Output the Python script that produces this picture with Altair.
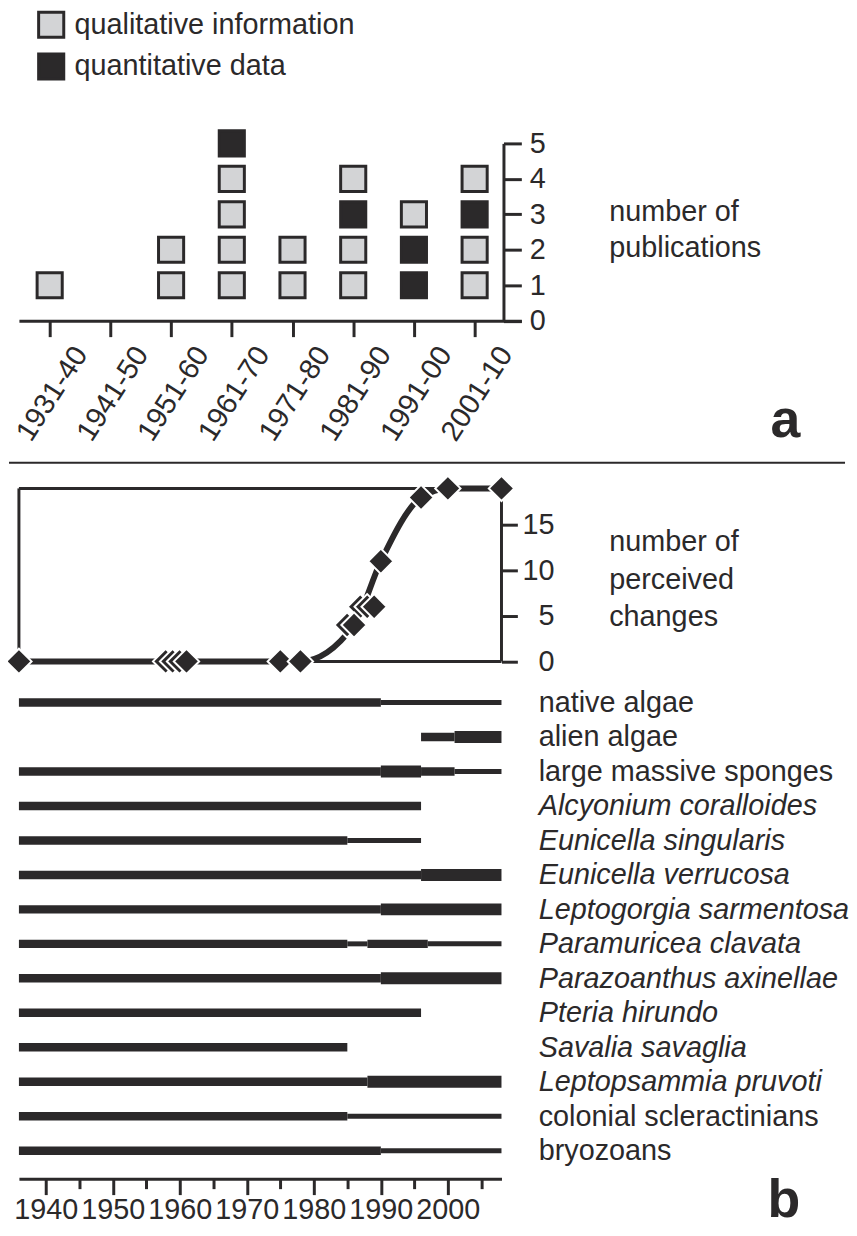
import altair as alt
import pandas as pd

DARK = "#2b292a"
GRAY = "#d3d4d6"
FONT = "Liberation Sans"

# ---------------- panel a: publications per decade ----------------
decades = ["1931-40", "1941-50", "1951-60", "1961-70", "1971-80", "1981-90", "1991-00", "2001-10"]
# publications stacked from the bottom up: q = qualitative, d = quantitative
decade_stacks = ["q", "", "qq", "qqqqd", "qq", "qqdq", "ddq", "qqdq"]
pub_codes = ["q", "d"]
pub_types = ["qualitative information", "quantitative data"]

# ---------------- panel b: perceived changes ----------------
change_years = [1936, 1961, 1975, 1978, 1986, 1989, 1990, 1996, 2000, 2008]
change_counts = [0, 0, 0, 0, 4, 6, 11, 18, 19, 19]
change_ghosts = [0, 3, 0, 0, 1, 2, 0, 0, 0, 0]
curve_years = [1936, 1961, 1975, 1978, 1986, 1990, 1996, 2000, 2008]
curve_counts = [0, 0, 0, 0, 4, 11, 18, 19, 19]
year_min, year_max, count_top = 1936, 2008, 19

# ---------------- panel b: taxa timelines ----------------
species = ["native algae", "alien algae", "large massive sponges", "Alcyonium coralloides",
           "Eunicella singularis", "Eunicella verrucosa", "Leptogorgia sarmentosa",
           "Paramuricea clavata", "Parazoanthus axinellae", "Pteria hirundo",
           "Savalia savaglia", "Leptopsammia pruvoti", "colonial scleractinians", "bryozoans"]
italic_species = ["Alcyonium coralloides", "Eunicella singularis", "Eunicella verrucosa",
                  "Leptogorgia sarmentosa", "Paramuricea clavata", "Parazoanthus axinellae",
                  "Pteria hirundo", "Savalia savaglia", "Leptopsammia pruvoti"]
seg_species = ["native algae", "native algae",
               "alien algae", "alien algae",
               "large massive sponges", "large massive sponges", "large massive sponges", "large massive sponges",
               "Alcyonium coralloides",
               "Eunicella singularis", "Eunicella singularis",
               "Eunicella verrucosa", "Eunicella verrucosa",
               "Leptogorgia sarmentosa", "Leptogorgia sarmentosa",
               "Paramuricea clavata", "Paramuricea clavata", "Paramuricea clavata", "Paramuricea clavata",
               "Parazoanthus axinellae", "Parazoanthus axinellae",
               "Pteria hirundo",
               "Savalia savaglia",
               "Leptopsammia pruvoti", "Leptopsammia pruvoti",
               "colonial scleractinians", "colonial scleractinians",
               "bryozoans", "bryozoans"]
seg_start = [1936, 1990, 1996, 2001, 1936, 1990, 1996, 2001, 1936, 1936, 1985, 1936, 1996,
             1936, 1990, 1936, 1985, 1988, 1997, 1936, 1990, 1936, 1936, 1936, 1988,
             1936, 1985, 1936, 1990]
seg_end = [1990, 2008, 2001, 2008, 1990, 1996, 2001, 2008, 1996, 1985, 1996, 1996, 2008,
           1990, 2008, 1985, 1988, 1997, 2008, 1990, 2008, 1996, 1985, 1988, 2008,
           1985, 2008, 1990, 2008]
# 1 = thin, 2 = medium, 3 = thick
seg_level = [2, 1, 2, 3, 2, 3, 2, 1, 2, 2, 1, 2, 3, 2, 3, 2, 1, 2, 1, 2, 3, 2, 2, 2, 3, 2, 1, 2, 1]
year_ticks = list(range(1940, 2006, 5))

# ---------------- tables ----------------
rows = []
for dec, stack in zip(decades, decade_stacks):
    for k, code in enumerate(stack):
        rows.append({"decade": dec, "n": k + 1, "type": pub_types[pub_codes.index(code)]})
pubs = pd.DataFrame(rows)

changes = pd.DataFrame({"year": change_years, "count": change_counts, "ghosts": change_ghosts})
curve = pd.DataFrame({"year": curve_years, "count": curve_counts})
frame = pd.DataFrame({
    "x1": [year_min, year_min, year_max, year_min],
    "x2": [year_min, year_max, year_max, year_max],
    "y1": [0, count_top, 0, 0],
    "y2": [count_top, count_top, count_top, 0],
})
segs = pd.DataFrame({"species": seg_species, "start": seg_start, "end": seg_end, "level": seg_level})

# ---------------- layout sizes ----------------
A_W, A_H = 506, 178.6
B_W, B_H = 486, 342.7
PX_PER_CHANGE = 9.17
B_TOP = B_H / PX_PER_CHANGE
C_H = 520.7
TXT = 29

# ---------------- panel a ----------------
a_chart = alt.Chart(pubs).mark_square(
    size=640, filled=True, stroke=DARK, strokeWidth=3, opacity=1
).encode(
    x=alt.X("decade:N", sort=decades,
            scale=alt.Scale(type="point", domain=decades, padding=0.638, align=0.397),
            axis=alt.Axis(title=None, labelAngle=303, labelAlign="center", labelBaseline="middle",
                          labelPadding=57, labelOffset=2, tickSize=16, tickWidth=3, tickColor=DARK,
                          domainColor=DARK, domainWidth=3, labelFontSize=TXT, labelColor=DARK,
                          labelOverlap=False, labelFlush=False, labelBound=False, grid=False)),
    y=alt.Y("n:Q", scale=alt.Scale(domain=[0, 5], nice=False, zero=True),
            axis=alt.Axis(orient="right", offset=-18, values=[0, 1, 2, 3, 4, 5], tickSize=18,
                          tickWidth=3, tickColor=DARK, domainColor=DARK, domainWidth=3,
                          labelFontSize=TXT, labelColor=DARK, labelPadding=8, grid=False,
                          title=["number of", "publications"], titleAngle=0, titleAlign="left",
                          titleBaseline="middle", titleX=106, titleY=69, titleFontSize=TXT,
                          titleFontWeight="normal", titleColor=DARK, titleLineHeight=36)),
    fill=alt.Fill("type:N", scale=alt.Scale(domain=pub_types, range=[GRAY, DARK]),
                  legend=alt.Legend(orient="none", legendX=18, legendY=-134, title=None,
                                    direction="vertical", symbolType="square", symbolSize=640,
                                    symbolStrokeColor=DARK, symbolStrokeWidth=3, symbolOpacity=1,
                                    labelFontSize=TXT, labelColor=DARK, labelOffset=9,
                                    labelLimit=500, rowPadding=3, padding=0)),
).properties(
    width=A_W, height=A_H,
    title=alt.TitleParams("a", orient="bottom", anchor="end", frame="group", fontSize=54,
                          fontWeight="bold", color=DARK, dx=281, offset=-9, baseline="alphabetic"),
)

# ---------------- panel b: cumulative changes ----------------
xb = alt.Scale(domain=[year_min, year_max], nice=False, zero=False)
yb = alt.Scale(domain=[0, B_TOP], nice=False, zero=True)
yb_axis = alt.Axis(orient="right", domain=False, values=[0, 5, 10, 15], tickSize=16, tickWidth=3,
                   tickColor=DARK, labelFontSize=TXT, labelColor=DARK, labelAlign="right",
                   labelPadding=37, grid=False,
                   title=["number of", "perceived", "changes"], titleAngle=0, titleAlign="left",
                   titleBaseline="middle", titleX=108, titleY=222, titleFontSize=TXT,
                   titleFontWeight="normal", titleColor=DARK, titleLineHeight=38)

frame_layer = alt.Chart(frame).mark_rule(color=DARK, strokeWidth=3).encode(
    x=alt.X("x1:Q", scale=xb, axis=None), x2="x2:Q",
    y=alt.Y("y1:Q", scale=yb, axis=yb_axis), y2="y2:Q",
)
sep_layer = alt.Chart(pd.DataFrame({"k": [0]})).mark_rule(color=DARK, strokeWidth=2).encode(
    x=alt.value(-10), x2=alt.value(832), y=alt.value(142.7)
)
curve_layer = alt.Chart(curve).mark_line(color=DARK, strokeWidth=6, interpolate="monotone").encode(
    x=alt.X("year:Q", scale=xb, axis=None),
    y=alt.Y("count:Q", scale=yb, axis=yb_axis),
)
ghost_layers = []
for g in (3, 2, 1):
    ghost_layers.append(
        alt.Chart(changes).transform_filter(alt.datum.ghosts >= g).mark_point(
            shape="diamond", filled=True, fill=DARK, stroke="white", strokeWidth=2,
            size=650, opacity=1, xOffset=-7 * g
        ).encode(
            x=alt.X("year:Q", scale=xb, axis=None),
            y=alt.Y("count:Q", scale=yb, axis=yb_axis),
        )
    )
diamond_layer = alt.Chart(changes).mark_point(
    shape="diamond", filled=True, fill=DARK, stroke="white", strokeWidth=2, size=650, opacity=1
).encode(
    x=alt.X("year:Q", scale=xb, axis=None),
    y=alt.Y("count:Q", scale=yb, axis=yb_axis),
)
b_chart = alt.layer(frame_layer, sep_layer, curve_layer, *ghost_layers, diamond_layer).properties(
    width=B_W, height=B_H
)

# ---------------- panel b: taxa timelines ----------------
italic_test = "indexof([" + ",".join("'" + s + "'" for s in italic_species) + "], datum.value) >= 0"
c_chart = alt.Chart(segs).mark_rule(color=DARK, strokeCap="butt").encode(
    x=alt.X("start:Q", scale=alt.Scale(domain=[year_min, year_max], nice=False, zero=False),
            axis=alt.Axis(title=None, values=year_ticks, format="d",
                          labelExpr="datum.value % 10 === 0 ? datum.label : ''",
                          tickSize={"condition": {"test": "datum.value % 10 === 0", "value": 16}, "value": 10},
                          tickWidth=3, tickColor=DARK, domainColor=DARK, domainWidth=3,
                          labelFontSize=TXT, labelColor=DARK, labelPadding=1, labelFlush=False,
                          labelOverlap=False, grid=False)),
    x2="end:Q",
    y=alt.Y("species:N", sort=species,
            scale=alt.Scale(type="point", domain=species, padding=1.018, align=0.593),
            axis=alt.Axis(orient="right", title=None, ticks=False, domain=False, labelPadding=37,
                          labelFontSize=TXT, labelColor=DARK, labelLimit=500, grid=False,
                          labelFontStyle={"condition": {"test": italic_test, "value": "italic"},
                                          "value": "normal"})),
    strokeWidth=alt.StrokeWidth("level:O", scale=alt.Scale(domain=[1, 2, 3], range=[5, 12, 18]),
                                legend=None),
).properties(
    width=B_W, height=C_H,
    title=alt.TitleParams("b", orient="bottom", anchor="end", frame="group", fontSize=54,
                          fontWeight="bold", color=DARK, dx=301, offset=-7, baseline="alphabetic"),
)

chart = alt.vconcat(a_chart, b_chart, c_chart, spacing=0, bounds="flush").resolve_scale(
    x="independent", y="independent"
).properties(
    padding={"left": -6, "top": -2, "right": 0, "bottom": 0}
).configure(font=FONT).configure_view(stroke=None)

chart.save("out.html", embed_options={"renderer": "svg", "actions": False})
